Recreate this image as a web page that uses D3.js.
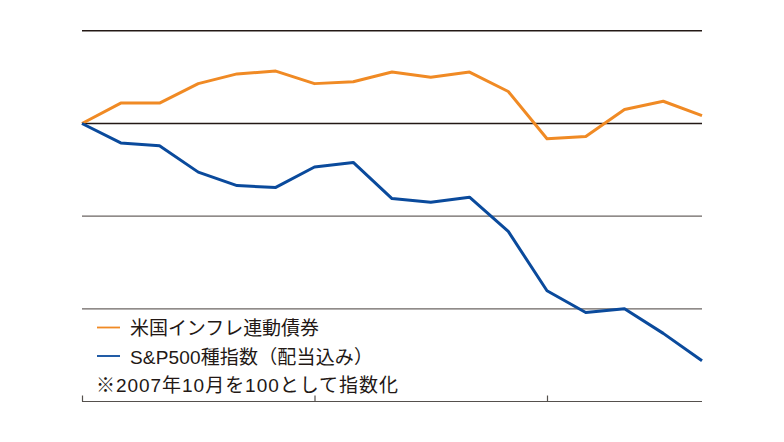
<!DOCTYPE html>
<html><head><meta charset="utf-8">
<script src="https://cdn.jsdelivr.net/npm/d3@7"></script>
<style>body{margin:0;background:#fff}svg{display:block}</style>
</head><body>
<script>
const months = ["2007-10","2007-11","2007-12","2008-01","2008-02","2008-03","2008-04","2008-05","2008-06","2008-07","2008-08","2008-09","2008-10","2008-11","2008-12","2009-01","2009-02"];
const tipsValues = [100,104.4,104.4,108.6,110.7,111.3,108.6,109.0,111.1,110.0,111.1,106.9,96.7,97.2,103.0,104.8,101.7];
const spValues = [100,95.8,95.2,89.5,86.6,86.2,90.6,91.6,83.8,83.0,84.1,76.7,63.9,59.2,60.0,54.7,48.8];
const gridValues = [120,100,80,60];
const tickMonths = ["2007-10","2008-04","2008-10"];
const seriesNames = ["米国インフレ連動債券","S&P500種指数（配当込み）"];
const note = "※2007年10月を100として指数化";
const colors = ["#f08a24","#0a4a9c"];

const W=784,H=442;
const svg=d3.select("body").append("svg").attr("width",W).attr("height",H);
const x=d3.scalePoint().domain(months).range([82,702]);
const y=d3.scaleLinear().domain([40,120]).range([401.5,30.8]);

// gridlines
svg.append("g").selectAll("line").data(gridValues).join("line")
  .attr("x1",82).attr("x2",702).attr("y1",d=>y(d)).attr("y2",d=>y(d))
  .attr("stroke",d=>d>=100?"#231815":"#6b6562").attr("stroke-width",1.4);

// bottom axis
const ax=svg.append("g").attr("transform",`translate(0,${y(40)})`)
  .call(d3.axisBottom(x).tickValues(tickMonths).tickSize(-6).tickFormat(""));
ax.select(".domain").attr("stroke","#55504d").attr("stroke-width",1.2).attr("d","M82,0H702");
ax.selectAll(".tick line").attr("stroke","#55504d").attr("stroke-width",1.2);

const line=d3.line().x((d,i)=>x(months[i])).y(d=>y(d));
[tipsValues,spValues].forEach((vals,k)=>{
  svg.append("path").datum(vals).attr("d",line).attr("fill","none")
    .attr("stroke",colors[k]).attr("stroke-width",3).attr("stroke-linejoin","round");
});

// legend
const font="'Liberation Sans','Noto Sans CJK JP',sans-serif";
const lg=svg.append("g");
const widths=[189,243];
seriesNames.forEach((n,i)=>{
  const yy=327.5+i*28.5;
  lg.append("line").attr("x1",97).attr("x2",120).attr("y1",yy).attr("y2",yy)
    .attr("stroke",colors[i]).attr("stroke-width",1.8);
  lg.append("text").attr("x",130).attr("y",yy+1).attr("dominant-baseline","central")
    .attr("font-family",font).attr("font-size",19).attr("fill","#231815")
    .attr("textLength",widths[i]).attr("lengthAdjust","spacing").text(n);
});
lg.append("text").attr("x",96).attr("y",327.5+57+1).attr("dominant-baseline","central")
  .attr("font-family",font).attr("font-size",19).attr("fill","#231815")
  .attr("textLength",302).attr("lengthAdjust","spacing").text(note);
</script>
</body></html>
